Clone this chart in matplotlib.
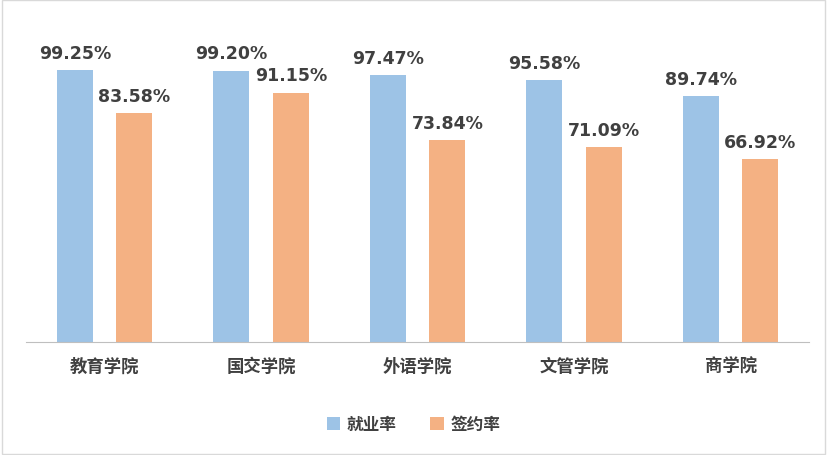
import matplotlib.pyplot as plt
import numpy as np
from matplotlib.patches import Rectangle

plt.rcParams['font.family'] = ['Noto Sans CJK SC', 'DejaVu Sans']

categories = ['教育学院', '国交学院', '外语学院', '文管学院', '商学院']
employment = [99.25, 99.20, 97.47, 95.58, 89.74]
signing = [83.58, 91.15, 73.84, 71.09, 66.92]
series_names = ['就业率', '签约率']

fig = plt.figure(figsize=(8.27, 4.56), dpi=100)
ax = fig.add_axes([0.032, 0.248, 0.946, 0.72])
x = np.arange(len(categories))
w = 0.23
off = 0.19
b1 = ax.bar(x - off, employment, w, color='#9DC3E6', label=series_names[0])
b2 = ax.bar(x + off, signing, w, color='#F4B183', label=series_names[1])
for bars, vals in ((b1, employment), (b2, signing)):
    for r, v in zip(bars, vals):
        ax.text(r.get_x() + r.get_width() / 2, v + 3, f'{v:.2f}%', ha='center', va='bottom',
                fontsize=12.5, fontweight='bold', color='#404040', family='DejaVu Sans')
ax.set_xlim(-0.5, len(categories) - 0.5)
ax.set_ylim(0, 120)
ax.set_yticks([])
ax.set_xticks(x)
ax.set_xticklabels(categories, fontsize=12.5, fontweight='bold', color='#404040')
ax.tick_params(axis='x', length=0, pad=11)
for s in ['top', 'right', 'left']:
    ax.spines[s].set_visible(False)
ax.spines['bottom'].set_color('#BFBFBF')
fig.legend(loc='center', bbox_to_anchor=(0.5, 0.068), ncol=2, frameon=False,
           prop={'size': 12, 'weight': 'bold'}, handlelength=0.8, handleheight=0.8,
           handletextpad=0.4, columnspacing=2.0, labelcolor='#404040')
fig.patches.append(Rectangle((0.002, 0.002), 0.996, 0.996, transform=fig.transFigure,
                             fill=False, edgecolor='#D9D9D9', lw=1))
fig.savefig('out.png', dpi=100)
